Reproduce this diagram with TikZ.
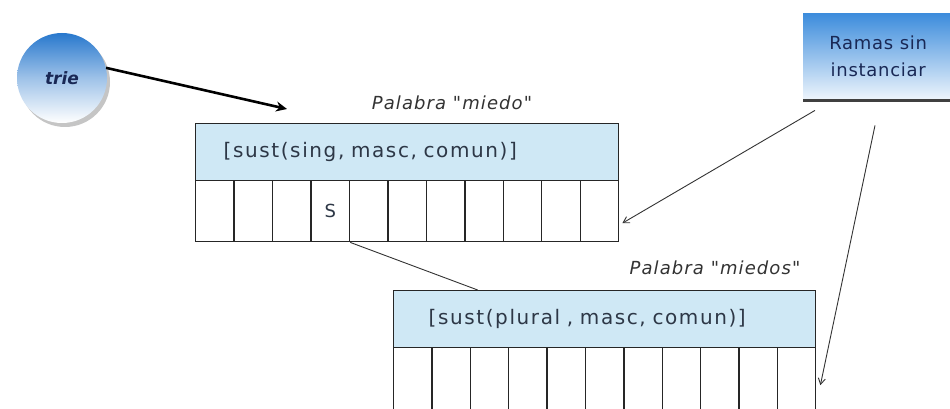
\documentclass[tikz,border=0pt]{standalone}
\usepackage{fontspec}
\setmainfont{DejaVu Sans}
\newfontfamily\hdrfont[LetterSpace=8]{DejaVu Sans}
\newfontfamily\lblfont[LetterSpace=6,Ligatures=TeXOff]{DejaVu Sans}
\newfontfamily\ramfont[LetterSpace=4]{DejaVu Sans}
\usetikzlibrary{arrows.meta,shadows,calc}
\definecolor{hdr}{RGB}{207,232,245}
\definecolor{txt}{RGB}{45,55,70}
\definecolor{navy}{RGB}{25,40,85}
\definecolor{blueA}{RGB}{40,120,205}
\definecolor{blueB}{RGB}{60,140,220}
\begin{document}
\begin{tikzpicture}[x=1pt,y=-1pt,
  hdrbox/.style={draw=black!85,line width=1.4pt,fill=hdr,anchor=north west,minimum height=57pt,align=left,text=txt,font=\hdrfont\fontsize{20}{23}\selectfont},
  cell/.style={draw=black!85,line width=1.4pt,fill=white,anchor=north west,inner sep=0pt},
  lbl/.style={font=\lblfont\itshape\fontsize{18}{20}\selectfont,text=black!80},
  thin/.style={draw=black!80,line width=0.9pt},
  tip/.style={-{Straight Barb[length=6pt,width=7pt]}}
]
\clip (0,0) rectangle (950,409);
\fill[white] (0,0) rectangle (950,409);
% trie circle
\node[circle,minimum size=90pt,top color=blueA,bottom color=white,middle color=blueA!45!white,
  drop shadow={shadow xshift=3pt,shadow yshift=-4pt,opacity=0.45},
  font=\itshape\bfseries\fontsize{17}{19}\selectfont,text=navy] (trie) at (62,78) {trie};
% Ramas box
\node[anchor=north west,minimum width=150pt,minimum height=87pt,top color=blueB,bottom color=blueB!8!white,
  align=center,font=\ramfont\fontsize{18}{27}\selectfont,text=navy] (ramas) at (803,13) {Ramas sin\\instanciar};
\draw[line width=3.5pt,black!75] (ramas.south west) -- (ramas.south east);
% box 1
\node[hdrbox,minimum width=423pt,text width=367pt,inner xsep=28pt] (h1) at (195,123) {[sust(sing, masc, comun)]};
\foreach \i in {1,...,11}
  \node[cell,minimum width=38.45pt,minimum height=61pt] (c1-\i) at ({195+(\i-1)*38.45},180) {};
\node[text=txt,font=\fontsize{18}{20}\selectfont] at (c1-4) {S};
\node[lbl] (l1) at (452,103) {Palabra "miedo"};
% box 2
\node[hdrbox,minimum width=422pt,text width=352pt,inner xsep=35pt] (h2) at (393,290) {[sust(plural , masc, comun)]};
\foreach \i in {1,...,11}
  \node[cell,minimum width=38.36pt,minimum height=75pt] (c2-\i) at ({393+(\i-1)*38.36},347) {};
\node[lbl] (l2) at (715,268) {Palabra "miedos"};
% connectors
\coordinate (t1) at (287,109);
\draw[line width=2.6pt,black,-{Stealth[length=11pt,width=10pt]}] (trie.13) -- (t1);
\draw[thin] (c1-4.south east) -- ($(h2.north west)!0.2!(h2.north east)$);
\draw[thin,tip] ($(ramas.south west)+(12,10)$) -- ($(c1-11.east)+(3,12)$);
\draw[thin,tip] ($(ramas.south west)+(72,25)$) -- ($(c2-11.east)+(4,0)$);
\end{tikzpicture}
\end{document}
